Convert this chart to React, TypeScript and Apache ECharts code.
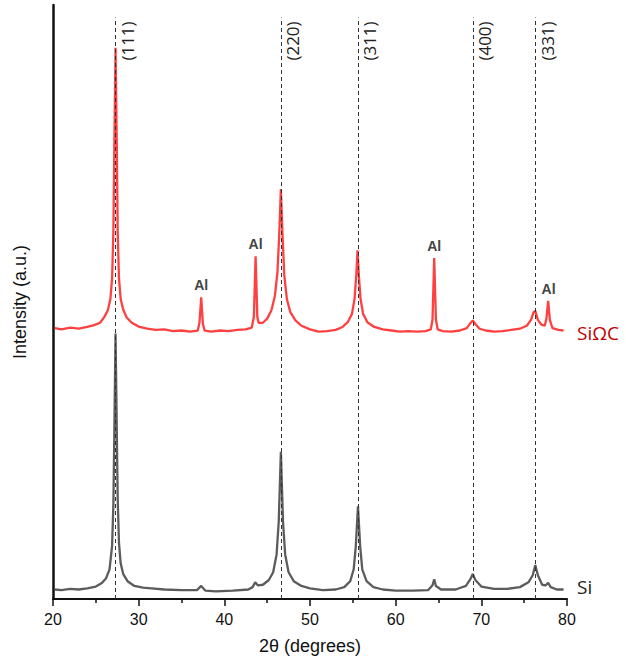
import React, { useEffect, useRef } from "react";
import * as echarts from "echarts";

// Red trace (SiΩC): [2θ, intensity a.u.]
const redTrace: [number, number][] = [
  [20.2, 45.6], [21, 45.4], [22, 45.7], [23, 45.5], [24, 45.8], [24.8, 46.1], [25.5, 46.5],
  [26.0, 47.5], [26.4, 48.6], [26.7, 50.5], [26.9, 54], [27.05, 62], [27.15, 75], [27.3, 92.8],
  [27.45, 76], [27.55, 62], [27.7, 54], [27.9, 50.5], [28.2, 48.7], [28.6, 47.4], [29.2, 46.5],
  [30.1, 45.8], [31, 45.5], [32, 45.3], [33, 45.4], [34, 45.1], [35, 45.2], [36, 45.0],
  [36.9, 45.2], [37.1, 46.5], [37.3, 50.8], [37.5, 46.3], [37.7, 45.2], [38.5, 45.0], [39.5, 45.2],
  [40.5, 45.1], [41.5, 45.3], [42.5, 45.4], [43.2, 45.7], [43.45, 47.5], [43.65, 57.7], [43.85, 47.5],
  [44.0, 46.5], [44.5, 46.5], [45.0, 47.2], [45.5, 48.6], [45.9, 51], [46.2, 55], [46.4, 61],
  [46.6, 69.0], [46.8, 61], [47.0, 54.5], [47.3, 50.5], [47.7, 48.3], [48.3, 46.9], [49, 46.0],
  [50, 45.4], [51, 45.0], [52, 45.1], [53, 45.3], [53.8, 45.8], [54.4, 46.6], [54.9, 48.0],
  [55.2, 50.5], [55.4, 54.5], [55.55, 58.7], [55.7, 54.5], [55.9, 50.5], [56.2, 48.0], [56.7, 46.6],
  [57.5, 45.8], [58.5, 45.4], [59.5, 45.2], [60.5, 45.0], [61.5, 45.1], [62.5, 45.0], [63.5, 45.1],
  [64.1, 45.4], [64.3, 47.0], [64.5, 57.4], [64.7, 47.0], [64.9, 45.4], [65.5, 45.1], [66.5, 45.0],
  [67.5, 45.2], [68.3, 45.6], [68.7, 46.4], [69.0, 46.9], [69.3, 46.3], [69.8, 45.5], [70.5, 45.2],
  [71.5, 45.0], [72.5, 45.1], [73.5, 45.3], [74.5, 45.5], [75.3, 46.0], [75.8, 47.0], [76.1, 48.3],
  [76.3, 48.5], [76.6, 47.0], [77.0, 46.2], [77.4, 46.0], [77.6, 47.2], [77.8, 50.2], [78.0, 47.0],
  [78.3, 45.6], [79, 45.3], [79.6, 45.2],
];

// Grey trace (Si)
const greyTrace: [number, number][] = [
  [20.2, 1.6], [21, 1.5], [22, 1.7], [23, 1.6], [24, 1.8], [25, 2.1], [25.7, 2.7], [26.2, 3.5],
  [26.6, 5], [26.9, 9], [27.05, 16], [27.15, 27], [27.3, 44.7], [27.45, 28], [27.55, 17],
  [27.7, 9.5], [27.9, 6], [28.2, 4.2], [28.7, 3.0], [29.5, 2.2], [30.5, 1.9], [31.5, 1.8],
  [33, 1.6], [35, 1.5], [36.8, 1.5], [37.3, 2.2], [37.8, 1.4], [39, 1.3], [41, 1.4], [42.8, 1.6],
  [43.3, 2.0], [43.6, 2.8], [43.9, 2.3], [44.5, 2.4], [45.2, 3.2], [45.7, 4.5], [46.1, 7.5],
  [46.35, 13], [46.6, 24.8], [46.85, 13], [47.1, 7.5], [47.5, 4.5], [48.1, 3.0], [49, 2.2],
  [50, 1.8], [51.5, 1.5], [53, 1.6], [54, 2.0], [54.7, 3.0], [55.1, 5], [55.35, 9], [55.6, 15.6],
  [55.85, 9], [56.1, 5], [56.6, 3.0], [57.4, 2.0], [58.5, 1.6], [60, 1.4], [62, 1.4], [63.8, 1.5],
  [64.3, 2.3], [64.5, 3.3], [64.7, 2.2], [65.3, 1.6], [67, 1.6], [68.2, 2.2], [68.7, 3.3],
  [69.0, 4.2], [69.3, 3.2], [70, 2.1], [71.5, 1.7], [73, 1.7], [74.5, 2.0], [75.5, 2.8],
  [76.0, 4.0], [76.3, 5.7], [76.6, 4.0], [77.1, 2.4], [77.5, 2.3], [77.8, 2.7], [78.1, 2.0],
  [78.8, 1.6], [79.6, 1.6],
];

const planeLabels = ["(111)", "(220)", "(311)", "(400)", "(331)"];
const planePositions = [27.3, 46.6, 55.6, 69.0, 76.3];
const alPeaks: [number, number][] = [[37.3, 50.8], [43.65, 57.7], [64.5, 57.4], [77.85, 50.2]];
const xTicks = [20, 30, 40, 50, 60, 70, 80];
const dashTop = 97.9;

export default function App() {
  const ref = useRef<HTMLDivElement>(null);
  useEffect(() => {
    if (!ref.current) return;
    const chart = echarts.init(ref.current, undefined, { renderer: "svg" });
    const font = "'Liberation Sans', Arial, sans-serif";
    const font2 = "'Open Sans', 'Liberation Sans', sans-serif";
    chart.setOption({
      animation: false,
      backgroundColor: "#ffffff",
      grid: { left: 53, right: 59, top: 5, bottom: 54 },
      xAxis: {
        type: "value",
        min: xTicks[0],
        max: xTicks[xTicks.length - 1],
        interval: 10,
        name: "2θ (degrees)",
        nameLocation: "middle",
        nameGap: 38,
        nameTextStyle: { fontSize: 18, color: "#111", fontFamily: font },
        axisLine: { lineStyle: { color: "#111", width: 2 } },
        axisTick: { show: true, inside: false, length: 7, lineStyle: { color: "#111", width: 1.5 } },
        minorTick: { show: true, splitNumber: 2, length: 4, lineStyle: { color: "#111", width: 1.5 } },
        axisLabel: { fontSize: 16, color: "#111", fontFamily: font, margin: 12 },
        splitLine: { show: false },
      },
      yAxis: {
        type: "value",
        min: 0,
        max: 100,
        name: "Intensity (a.u.)",
        nameLocation: "middle",
        nameGap: 24,
        nameTextStyle: { fontSize: 18, color: "#111", fontFamily: font },
        axisLine: { show: true, lineStyle: { color: "#111", width: 2.5 } },
        axisTick: { show: false },
        axisLabel: { show: false },
        splitLine: { show: false },
      },
      series: [
        {
          type: "line",
          name: "Si",
          data: greyTrace,
          showSymbol: false,
          symbol: "none",
          lineStyle: { color: "#4a4a4a", width: 2.3, opacity: 0.9 },
          z: 2,
          markLine: {
            silent: true,
            symbol: ["none", "none"],
            label: { show: false },
            lineStyle: { color: "#333", width: 1, type: [4, 3] },
            data: planePositions.map((p) => [{ coord: [p, 0] }, { coord: [p, dashTop] }]),
          },
        },
        {
          type: "line",
          name: "SiΩC",
          data: redTrace,
          showSymbol: false,
          symbol: "none",
          lineStyle: { color: "#ff1f1f", width: 2.3, opacity: 0.85 },
          z: 3,
        },
      ],
    });

    const graphics: any[] = [];
    planePositions.forEach((p, i) => {
      const [px] = chart.convertToPixel({ gridIndex: 0 }, [p, 0]) as number[];
      graphics.push({
        type: "text",
        x: px + 12,
        y: 41,
        rotation: Math.PI / 2,
        style: {
          text: planeLabels[i],
          fontSize: 17,
          fontFamily: font2,
          fill: "#222",
          align: "center",
          verticalAlign: "middle",
        },
      });
    });
    alPeaks.forEach(([x, y]) => {
      const [px, py] = chart.convertToPixel({ gridIndex: 0 }, [x, y]) as number[];
      graphics.push({
        type: "text",
        x: px,
        y: py - 12,
        style: {
          text: "Al",
          fontSize: 14,
          fontWeight: "bold",
          fontFamily: font,
          fill: "#444",
          align: "center",
          verticalAlign: "middle",
        },
      });
    });
    const redEnd = redTrace[redTrace.length - 1];
    const greyEnd = greyTrace[greyTrace.length - 1];
    const [, ry] = chart.convertToPixel({ gridIndex: 0 }, redEnd) as number[];
    const [, gy] = chart.convertToPixel({ gridIndex: 0 }, greyEnd) as number[];
    graphics.push({
      type: "text",
      x: 577,
      y: ry + 2,
      style: {
        text: "SiΩC",
        fontSize: 19,
        fontFamily: font2,
        fill: "#c00000",
        align: "left",
        verticalAlign: "middle",
      },
    });
    graphics.push({
      type: "text",
      x: 577,
      y: gy - 2,
      style: {
        text: "Si",
        fontSize: 19,
        fontFamily: font2,
        fill: "#222",
        align: "left",
        verticalAlign: "middle",
      },
    });
    chart.setOption({ graphic: graphics });

    return () => chart.dispose();
  }, []);
  return (
    <div
      ref={ref}
      style={{ position: "fixed", left: 0, top: 0, width: 626, height: 660 }}
    />
  );
}
